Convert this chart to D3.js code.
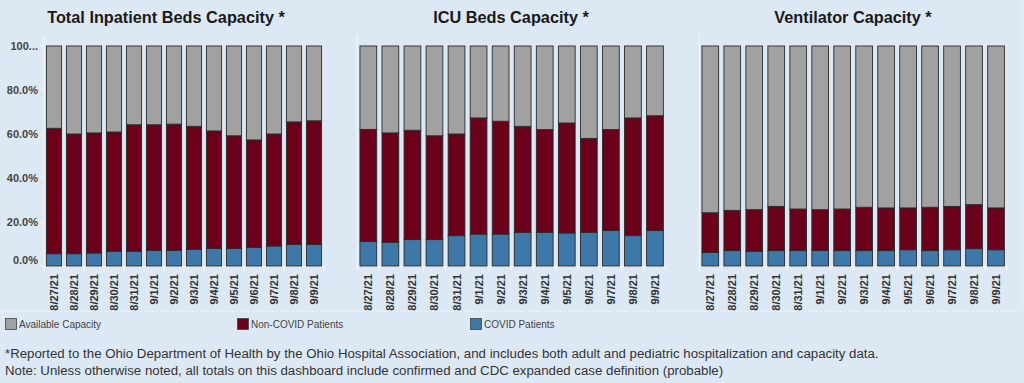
<!DOCTYPE html>
<html><head><meta charset="utf-8">
<script src="https://cdn.jsdelivr.net/npm/d3@7"></script>
<style>
body{margin:0;background:#dce8f3;}
svg{display:block;font-family:"Liberation Sans",Arial,sans-serif;}
</style></head>
<body><svg id="c" width="1024" height="383"></svg>
<script>
const dates = ["8/27/21","8/28/21","8/29/21","8/30/21","8/31/21","9/1/21","9/2/21","9/3/21","9/4/21","9/5/21","9/6/21","9/7/21","9/8/21","9/9/21"];
const panelTitles = ["Total Inpatient Beds Capacity *","ICU Beds Capacity *","Ventilator Capacity *"];
const seriesNames = ["COVID Patients","Non-COVID Patients","Available Capacity"];
const yTicks = [0,20,40,60,80,100];
const yTickLabels = ["0.0%","20.0%","40.0%","60.0%","80.0%","100..."];
// percent of capacity
const inpatientCovid    = [5.6,5.6,5.9,6.7,6.7,7.1,7.1,7.6,8.0,8.0,8.5,9.1,9.8,9.8];
const inpatientNonCovid = [57.0,54.4,54.6,54.2,57.5,57.1,57.4,55.9,53.4,51.2,48.8,50.9,55.7,56.2];
const icuCovid          = [11.1,10.8,12.0,12.0,13.8,14.5,14.5,15.3,15.3,15.0,15.3,16.1,13.8,16.1];
const icuNonCovid       = [51.0,49.7,49.7,47.2,46.2,52.8,51.3,48.2,46.7,50.0,42.7,45.9,53.5,52.2];
const ventCovid         = [6.2,7.0,6.7,7.0,7.0,7.0,7.0,7.0,7.0,7.4,7.0,7.4,7.9,7.4];
const ventNonCovid      = [18.0,18.3,18.9,20.1,18.9,18.6,18.9,19.7,19.4,19.0,19.7,19.7,20.0,19.0];
const footnotes = [
 "*Reported to the Ohio Department of Health by the Ohio Hospital Association, and includes both adult and pediatric hospitalization and capacity data.",
 "Note: Unless otherwise noted, all totals on this dashboard include confirmed and CDC expanded case definition (probable)"
];

const colors = {"COVID Patients":"#3d78a9","Non-COVID Patients":"#6b001a","Available Capacity":"#a1a1a1"};
const svg = d3.select("#c");
// faint dotted frame around chart area
svg.append("line").attr("x1",0).attr("x2",1022.5).attr("y1",311.5).attr("y2",311.5).attr("stroke","#eef3f8").attr("stroke-dasharray","2,2");
svg.append("line").attr("x1",1022.5).attr("x2",1022.5).attr("y1",0).attr("y2",311.5).attr("stroke","#eef3f8").attr("stroke-dasharray","2,2");

const panels = [
  {title:panelTitles[0], covid:inpatientCovid, non:inpatientNonCovid, x0:44, x1:324, titleX:166, showY:true},
  {title:panelTitles[1], covid:icuCovid, non:icuNonCovid, x0:357.3, x1:666, titleX:511, showY:false},
  {title:panelTitles[2], covid:ventCovid, non:ventNonCovid, x0:699.3, x1:1007, titleX:853, showY:false}
];
const y = d3.scaleLinear().domain([0,100]).range([266,46]);

panels.forEach(p=>{
  const g = svg.append("g");
  const x = d3.scaleBand().domain(dates).range([p.x0,p.x1]).paddingInner(0.24).paddingOuter(0.12);
  const rows = dates.map((d,i)=>({date:d,"COVID Patients":p.covid[i],"Non-COVID Patients":p.non[i],"Available Capacity":+(100-p.covid[i]-p.non[i]).toFixed(1)}));
  const stack = d3.stack().keys(seriesNames)(rows);
  g.append("line").attr("x1",p.x0).attr("x2",p.x0).attr("y1",35).attr("y2",271).attr("stroke","#f4f7fa").attr("stroke-width",1);
  g.append("line").attr("x1",p.x0).attr("x2",p.x1).attr("y1",266.5).attr("y2",266.5).attr("stroke","#f4f7fa").attr("stroke-width",1);
  const step = x.step();
  dates.forEach((d,i)=>{
    const bx = x(d) - x.paddingInner()*step/2;
    g.append("line").attr("x1",bx).attr("x2",bx).attr("y1",266).attr("y2",271).attr("stroke","#f4f7fa");
  });
  g.append("line").attr("x1",p.x1).attr("x2",p.x1).attr("y1",266).attr("y2",271).attr("stroke","#f4f7fa");
  stack.forEach(s=>{
    g.selectAll(null).data(s).enter().append("rect")
      .attr("x",d=>x(d.data.date)).attr("width",x.bandwidth())
      .attr("y",d=>y(d[1])).attr("height",d=>y(d[0])-y(d[1]))
      .attr("fill",colors[s.key]).attr("stroke","#2b2b2b").attr("stroke-width",0.9);
  });
  g.selectAll(null).data(dates).enter().append("text")
    .attr("transform",d=>`translate(${x(d)+x.bandwidth()/2+4},274) rotate(-90)`)
    .attr("text-anchor","end").attr("font-size",11).attr("font-weight","bold").attr("fill","#333")
    .text(d=>d);
  g.append("text").attr("x",p.titleX).attr("y",23).attr("text-anchor","middle")
    .attr("font-size",16.3).attr("font-weight","bold").attr("fill","#1a1a1a").text(p.title);
  if(p.showY){
    yTicks.forEach((t,i)=>{
      g.append("line").attr("x1",p.x0-4).attr("x2",p.x0).attr("y1",y(t)).attr("y2",y(t)).attr("stroke","#f4f7fa");
      g.append("text").attr("x",38).attr("y",(t===0?y(t)-6:y(t))+4).attr("text-anchor","end")
        .attr("font-size",11).attr("font-weight","bold").attr("fill","#444").text(yTickLabels[i]);
    });
  }
});

const legendItems = ["Available Capacity","Non-COVID Patients","COVID Patients"];
const legendX = [5,237,470];
legendItems.forEach((k,i)=>{
  svg.append("rect").attr("x",legendX[i]+0.5).attr("y",318.5).attr("width",11).attr("height",11)
    .attr("fill",colors[k]).attr("stroke","#444").attr("stroke-width",0.8);
  svg.append("text").attr("x",legendX[i]+14).attr("y",328).attr("font-size",10).attr("fill","#444").text(k);
});
footnotes.forEach((t,i)=>{
  svg.append("text").attr("x",5).attr("y",358+i*17).attr("font-size",13.25).attr("fill","#333").text(t);
});
</script></body></html>
